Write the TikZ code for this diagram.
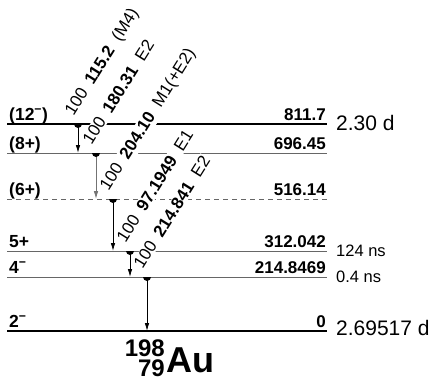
\documentclass[tikz,border=0pt]{standalone}
\usepackage{fontspec}
\setmainfont{Liberation Sans}
\usetikzlibrary{arrows.meta}
\newcommand\supmin{\textsuperscript{\char"2212}}
\begin{document}
\begin{tikzpicture}[x=1pt,y=-1pt,
  lev/.style={draw=black!60, line width=0.9pt},
  levthick/.style={draw=black, line width=2.4pt},
  levdash/.style={lev, dash pattern=on 5pt off 4pt},
  spin/.style={anchor=base west, inner sep=0pt, font=\fontsize{17.5}{17.5}\selectfont\bfseries},
  en/.style={anchor=base east, inner sep=0pt, font=\fontsize{17}{17}\selectfont\bfseries},
  hl/.style={anchor=base west, inner sep=0pt, font=\fontsize{21}{21}\selectfont},
  hls/.style={anchor=base west, inner sep=0pt, font=\fontsize{16.5}{16.5}\selectfont},
  glab/.style={anchor=base west, rotate=58, fill=white, inner sep=1pt, font=\fontsize{17}{17}\selectfont},
  gam/.style={draw=black, -{Latex[length=8pt,width=4.5pt]}, line width=0.8pt},
  gamgray/.style={gam, draw=black!55},
  halfdisk/.style={fill=black},
]
\useasboundingbox (0,0) rectangle (430,381);
% levels
\coordinate (L1a) at (7,124); \coordinate (L1b) at (327,124);
\coordinate (L2a) at (7,153); \coordinate (L2b) at (327,153);
\coordinate (L3a) at (7,199); \coordinate (L3b) at (327,199);
\coordinate (L4a) at (7,251); \coordinate (L4b) at (327,251);
\coordinate (L5a) at (7,277); \coordinate (L5b) at (327,277);
\coordinate (L6a) at (7,331); \coordinate (L6b) at (327,331);
\draw[levthick] (L1a) -- (L1b);
\draw[lev] (L2a) -- (L2b);
\draw[levdash] (L3a) -- (L3b);
\draw[lev] (L4a) -- (L4b);
\draw[lev] (L5a) -- (L5b);
\draw[levthick] (L6a) -- (L6b);
% spins
\node[spin] (s1) at (9,120) {(12\supmin)};
\node[spin] (s2) at (9,149) {(8+)};
\node[spin] (s3) at (9,195) {(6+)};
\node[spin] (s4) at (9,247) {5+};
\node[spin] (s5) at (9,273) {4\supmin};
\node[spin] (s6) at (9,327) {2\supmin};
% energies
\node[en] (e1) at (326,120) {811.7};
\node[en] (e2) at (326,149) {696.45};
\node[en] (e3) at (326,195) {516.14};
\node[en] (e4) at (326,247) {312.042};
\node[en] (e5) at (326,273) {214.8469};
\node[en] (e6) at (326,327) {0};
% half-lives
\node[hl] (h1) at (336,130) {2.30 d};
\node[hls] (h4) at (336,256) {124 ns};
\node[hls] (h5) at (336,282) {0.4 ns};
\node[hl] (h6) at (336,335) {2.69517 d};
% gamma labels
\node[glab] (t1) at (73,118) {100\hspace{9pt}\textbf{115.2}\hspace{9pt}(M4)};
\node[glab] (t2) at (91,147) {100\hspace{9pt}\textbf{180.31}\hspace{9pt}E2};
\node[glab] (t3) at (108,193) {100\hspace{9pt}\textbf{204.10}\hspace{9pt}M1(+E2)};
\node[glab] (t4) at (125,245) {100\hspace{9pt}\textbf{97.1949}\hspace{9pt}E1};
\node[glab] (t5) at (142,271) {100\hspace{9pt}\textbf{214.841}\hspace{9pt}E2};
% transitions
\coordinate (g1s) at (78,124); \coordinate (g1e) at (78,153);
\coordinate (g2s) at (96,153); \coordinate (g2e) at (96,199);
\coordinate (g3s) at (113,199); \coordinate (g3e) at (113,251);
\coordinate (g4s) at (130,251); \coordinate (g4e) at (130,277);
\coordinate (g5s) at (147,277); \coordinate (g5e) at (147,331);
\draw[gam] (g1s) -- (g1e);
\draw[gamgray] (g2s) -- (g2e);
\draw[gam] (g3s) -- (g3e);
\draw[gam] (g4s) -- (g4e);
\draw[gam] (g5s) -- (g5e);
\foreach \p in {g1s,g2s,g3s,g4s,g5s}
  \fill[halfdisk] (\p) ++(-4,0) arc[start angle=180,end angle=0,radius=4] -- cycle;
% nuclide
\node[anchor=base west, inner sep=0pt, font=\fontsize{36}{36}\selectfont\bfseries] (au) at (166,372) {Au};
\node[anchor=base east, inner sep=0pt, font=\fontsize{24}{24}\selectfont\bfseries] (a) at (165,356) {198};
\node[anchor=base east, inner sep=0pt, font=\fontsize{24}{24}\selectfont\bfseries] (z) at (165,376) {79};
\end{tikzpicture}
\end{document}
